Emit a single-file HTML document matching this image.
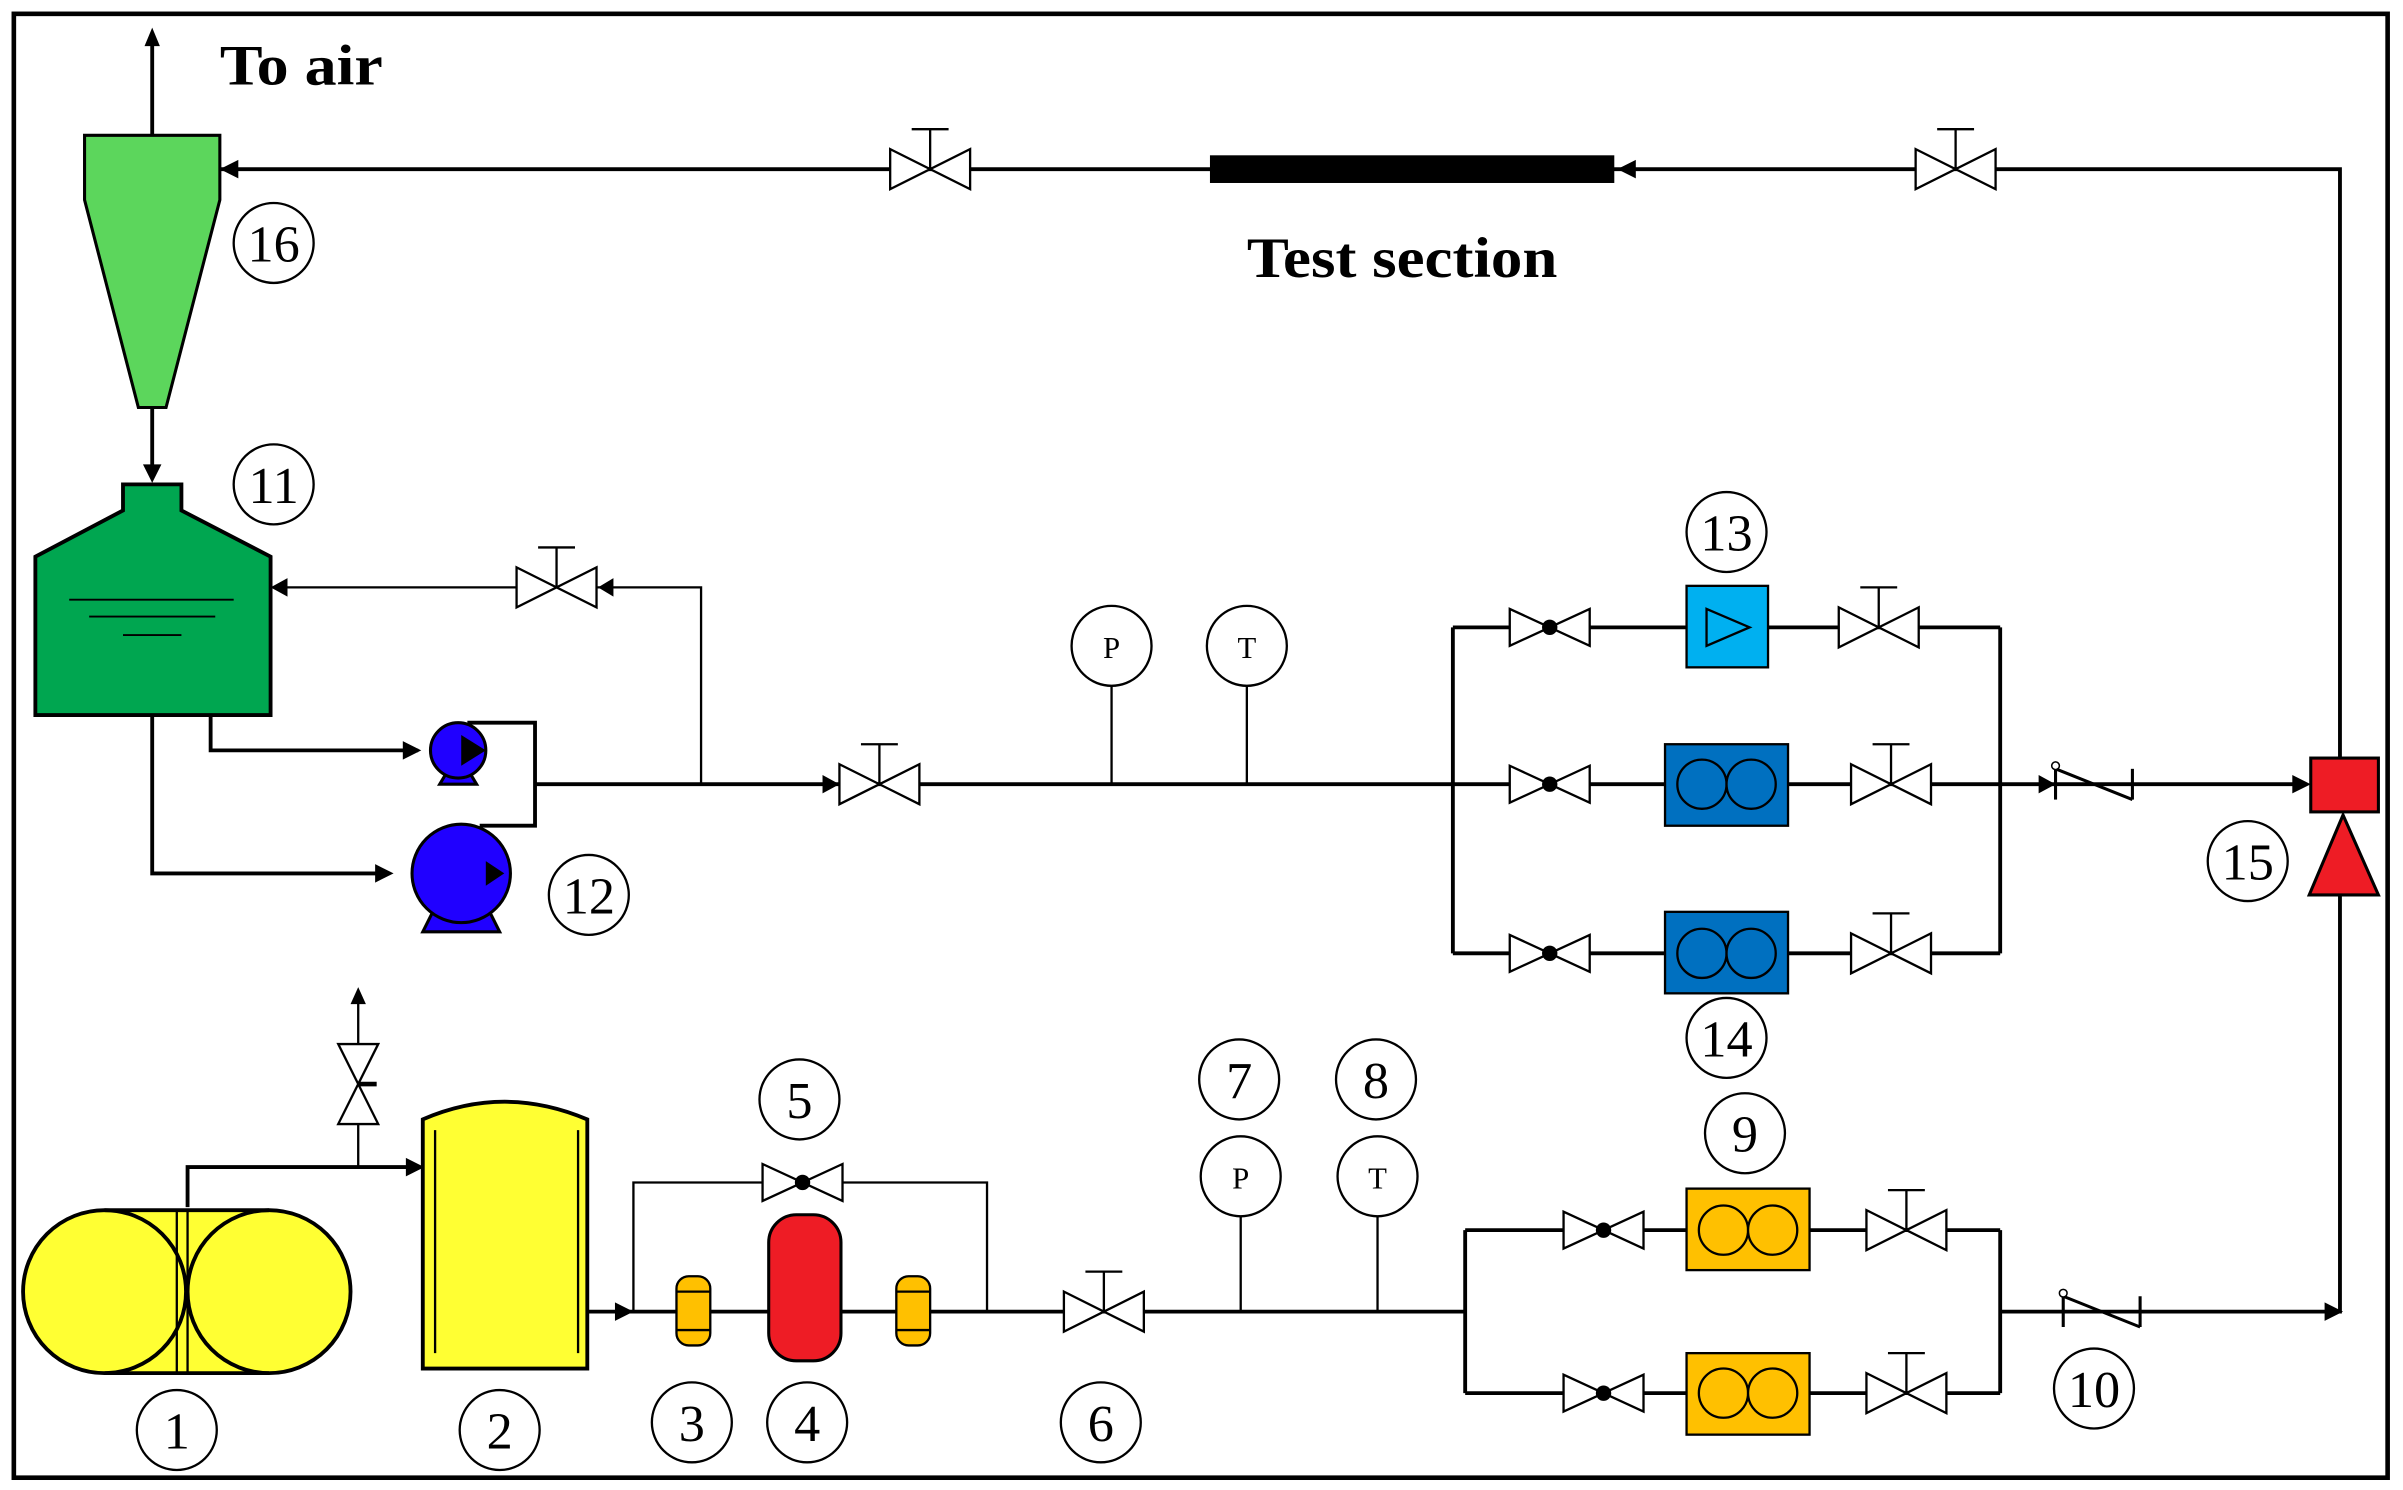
<!DOCTYPE html>
<html><head><meta charset="utf-8"><style>html,body{margin:0;padding:0;background:#fff}svg{display:block}</style></head>
<body>
<svg width="2403" height="1490" viewBox="0 0 1563 969" preserveAspectRatio="none" xmlns="http://www.w3.org/2000/svg" font-family="Liberation Serif, serif">
<defs>
<g id="v"><polygon points="-26,-13 26,13 26,-13 -26,13" fill="#fff" stroke="#000" stroke-width="1.5"/><line x1="0" y1="0" x2="0" y2="-26" stroke="#000" stroke-width="1.5"/><line x1="-12" y1="-26" x2="12" y2="-26" stroke="#000" stroke-width="1.5"/></g>
<g id="c"><polygon points="-26,-12 26,12 26,-12 -26,12" fill="#fff" stroke="#000" stroke-width="1.5"/><circle r="5" fill="#000"/></g>
<g id="ck"><line x1="-28" y1="-10" x2="-28" y2="10" stroke="#000" stroke-width="2"/><line x1="-28" y1="-10" x2="22" y2="10" stroke="#000" stroke-width="2"/><line x1="22" y1="-10" x2="22" y2="10" stroke="#000" stroke-width="2"/><circle cx="-28" cy="-12" r="2.5" fill="#fff" stroke="#000"/></g>
</defs>
<rect x="9" y="9" width="1544" height="952" fill="#fff" stroke="#000" stroke-width="3"/>
<g stroke="#000" stroke-width="2.5" fill="none">
<line x1="99" y1="88" x2="99" y2="28"/>
<polyline points="143,110 1522,110 1522,495"/>
<line x1="99" y1="265" x2="99" y2="305"/>
<polyline points="456,510 456,382 180,382" stroke-width="1.5"/>
<polyline points="137,465 137,488 272,488"/>
<polyline points="99,465 99,568 250,568"/>
<polyline points="304,470 348,470 348,537 312,537"/>
<line x1="348" y1="510" x2="945" y2="510"/>
<line x1="723" y1="446" x2="723" y2="510" stroke-width="1.5"/>
<line x1="811" y1="446" x2="811" y2="510" stroke-width="1.5"/>
<polyline points="945,408 945,620"/>
<line x1="945" y1="408" x2="1301" y2="408"/>
<line x1="945" y1="620" x2="1301" y2="620"/>
<polyline points="1301,408 1301,620"/>
<line x1="945" y1="510" x2="1500" y2="510"/>
<polyline points="1522,582 1522,853 1301,853"/>
<polyline points="1301,800 1301,906"/>
<polyline points="122,785 122,759 268,759"/>
<polyline points="233,759 233,650" stroke-width="1.5"/>
<line x1="382" y1="853" x2="953" y2="853"/>
<polyline points="412,853 412,769 642,769 642,853" stroke-width="1.5"/>
<line x1="807" y1="791" x2="807" y2="853" stroke-width="1.5"/>
<line x1="896" y1="791" x2="896" y2="853" stroke-width="1.5"/>
<polyline points="953,800 953,906"/>
<line x1="953" y1="800" x2="1301" y2="800"/>
<line x1="953" y1="906" x2="1301" y2="906"/>
</g>
<g fill="#000">
<polygon points="99,18 94,30 104,30"/>
<polygon points="143,110 155,104 155,116"/>
<polygon points="1052,110 1064,104 1064,116"/>
<polygon points="99,314 93,302 105,302"/>
<polygon points="176,382 187,376 187,388"/>
<polygon points="389,382 399,376 399,388"/>
<polygon points="274,488 262,482 262,494"/>
<polygon points="256,568 244,562 244,574"/>
<polygon points="546,510 535,504 535,516"/>
<polygon points="1337,510 1326,504 1326,516"/>
<polygon points="1503,510 1491,504 1491,516"/>
<polygon points="1524,853 1512,847 1512,859"/>
<polygon points="276,759 264,753 264,765"/>
<polygon points="233,642 228,653 238,653"/>
<polygon points="412,853 400,847 400,859"/>
</g>
<use href="#v" x="605" y="110"/><use href="#v" x="1272" y="110"/>
<rect x="787" y="101" width="263" height="18" fill="#000"/>
<polygon points="55,88 143,88 143,130 108,265 90,265 55,130" fill="#5cd65c" stroke="#000" stroke-width="2"/>
<polygon points="80,315 118,315 118,332 176,362 176,465 23,465 23,362 80,332" fill="#00a650" stroke="#000" stroke-width="2.5"/>
<g stroke="#000" stroke-width="1.2"><line x1="45" y1="390" x2="152" y2="390"/><line x1="58" y1="401" x2="140" y2="401"/><line x1="80" y1="413" x2="118" y2="413"/></g>
<use href="#v" x="362" y="382"/>
<g stroke="#000" stroke-width="2"><path d="M286,510 L310,510 L304,500 L292,500Z" fill="#2000ff"/><circle cx="298" cy="488" r="18" fill="#2000ff"/>
<path d="M275,606 L325,606 L318,592 L282,592Z" fill="#2000ff"/><circle cx="300" cy="568" r="32" fill="#2000ff"/></g>
<polygon points="300,478 316,488 300,498" fill="#000"/><polygon points="316,560 328,568 316,576" fill="#000"/>
<use href="#v" x="572" y="510"/>
<g fill="#fff" stroke="#000" stroke-width="1.5"><circle cx="723" cy="420" r="26"/><circle cx="811" cy="420" r="26"/><circle cx="807" cy="765" r="26"/><circle cx="896" cy="765" r="26"/></g>
<g font-size="20" text-anchor="middle"><text x="723" y="428">P</text><text x="811" y="428">T</text><text x="807" y="773">P</text><text x="896" y="773">T</text></g>
<use href="#c" x="1008" y="408"/><use href="#c" x="1008" y="510"/><use href="#c" x="1008" y="620"/>
<use href="#v" x="1222" y="408"/><use href="#v" x="1230" y="510"/><use href="#v" x="1230" y="620"/>
<rect x="1097" y="381" width="53" height="53" fill="#00b0f0" stroke="#000" stroke-width="1.5"/>
<polygon points="1110,396 1138,408 1110,420" fill="none" stroke="#000" stroke-width="1.5"/>
<g stroke="#000" stroke-width="1.5"><rect x="1083" y="484" width="80" height="53" fill="#0070c0"/><circle cx="1107" cy="510" r="16" fill="#0070c0"/><circle cx="1139" cy="510" r="16" fill="#0070c0"/>
<rect x="1083" y="593" width="80" height="53" fill="#0070c0"/><circle cx="1107" cy="620" r="16" fill="#0070c0"/><circle cx="1139" cy="620" r="16" fill="#0070c0"/>
<rect x="1097" y="773" width="80" height="53" fill="#ffc000"/><circle cx="1121" cy="800" r="16" fill="#ffc000"/><circle cx="1153" cy="800" r="16" fill="#ffc000"/>
<rect x="1097" y="880" width="80" height="53" fill="#ffc000"/><circle cx="1121" cy="906" r="16" fill="#ffc000"/><circle cx="1153" cy="906" r="16" fill="#ffc000"/></g>
<use href="#ck" x="1365" y="510"/><use href="#ck" x="1370" y="853"/>
<rect x="1503" y="493" width="44" height="35" fill="#ee1c25" stroke="#000" stroke-width="2"/>
<polygon points="1524,530 1502,582 1547,582" fill="#ee1c25" stroke="#000" stroke-width="2"/>
<g stroke="#000" stroke-width="2.5" fill="#ffff33"><rect x="68" y="787" width="107" height="106" stroke="none"/><circle cx="68" cy="840" r="53"/><circle cx="175" cy="840" r="53"/>
<line x1="68" y1="787" x2="175" y2="787"/><line x1="68" y1="893" x2="175" y2="893"/></g>
<g stroke="#000" stroke-width="1.5"><line x1="115" y1="787" x2="115" y2="893"/><line x1="122" y1="787" x2="122" y2="893"/></g>
<g transform="translate(233,705) rotate(90)"><polygon points="-26,-13 26,13 26,-13 -26,13" fill="#fff" stroke="#000" stroke-width="1.5"/><line x1="0" y1="0" x2="0" y2="-12" stroke="#000" stroke-width="3"/></g>
<path d="M275,890 L275,728 Q328,705 382,728 L382,890Z" fill="#ffff33" stroke="#000" stroke-width="2.5"/>
<g stroke="#000" stroke-width="1.5"><line x1="283" y1="735" x2="283" y2="880"/><line x1="376" y1="735" x2="376" y2="880"/></g>
<g transform="translate(522,769)"><polygon points="-26,-12 26,12 26,-12 -26,12" fill="#fff" stroke="#000" stroke-width="1.5"/><circle r="5" fill="#000"/></g>
<g stroke="#000" stroke-width="1.5"><rect x="440" y="830" width="22" height="45" rx="8" fill="#ffc000"/><line x1="440" y1="840" x2="462" y2="840"/><line x1="440" y1="865" x2="462" y2="865"/>
<rect x="583" y="830" width="22" height="45" rx="8" fill="#ffc000"/><line x1="583" y1="840" x2="605" y2="840"/><line x1="583" y1="865" x2="605" y2="865"/></g>
<rect x="500" y="790" width="47" height="95" rx="18" fill="#ee1c25" stroke="#000" stroke-width="2"/>
<use href="#v" x="718" y="853"/>
<use href="#c" x="1043" y="800"/><use href="#c" x="1043" y="906"/>
<use href="#v" x="1240" y="800"/><use href="#v" x="1240" y="906"/>
<g font-weight="bold" font-size="37"><text x="143" y="55" textLength="106" lengthAdjust="spacingAndGlyphs">To air</text><text x="811" y="180" textLength="202" lengthAdjust="spacingAndGlyphs">Test section</text></g>
<g fill="#fff" stroke="#000" stroke-width="1.5">
<circle cx="115" cy="930" r="26"/><circle cx="325" cy="930" r="26"/><circle cx="450" cy="925" r="26"/><circle cx="525" cy="925" r="26"/><circle cx="520" cy="715" r="26"/><circle cx="716" cy="925" r="26"/><circle cx="806" cy="702" r="26"/><circle cx="895" cy="702" r="26"/><circle cx="1135" cy="737" r="26"/><circle cx="1362" cy="903" r="26"/><circle cx="178" cy="315" r="26"/><circle cx="383" cy="582" r="26"/><circle cx="1123" cy="346" r="26"/><circle cx="1123" cy="675" r="26"/><circle cx="1462" cy="560" r="26"/><circle cx="178" cy="158" r="26"/></g>
<g font-size="34" text-anchor="middle">
<text x="115" y="942">1</text><text x="325" y="942">2</text><text x="450" y="937">3</text><text x="525" y="937">4</text><text x="520" y="727">5</text><text x="716" y="937">6</text><text x="806" y="714">7</text><text x="895" y="714">8</text><text x="1135" y="749">9</text><text x="1362" y="915">10</text><text x="178" y="327">11</text><text x="383" y="594">12</text><text x="1123" y="358">13</text><text x="1123" y="687">14</text><text x="1462" y="572">15</text><text x="178" y="170">16</text></g>
</svg>
</body></html>
